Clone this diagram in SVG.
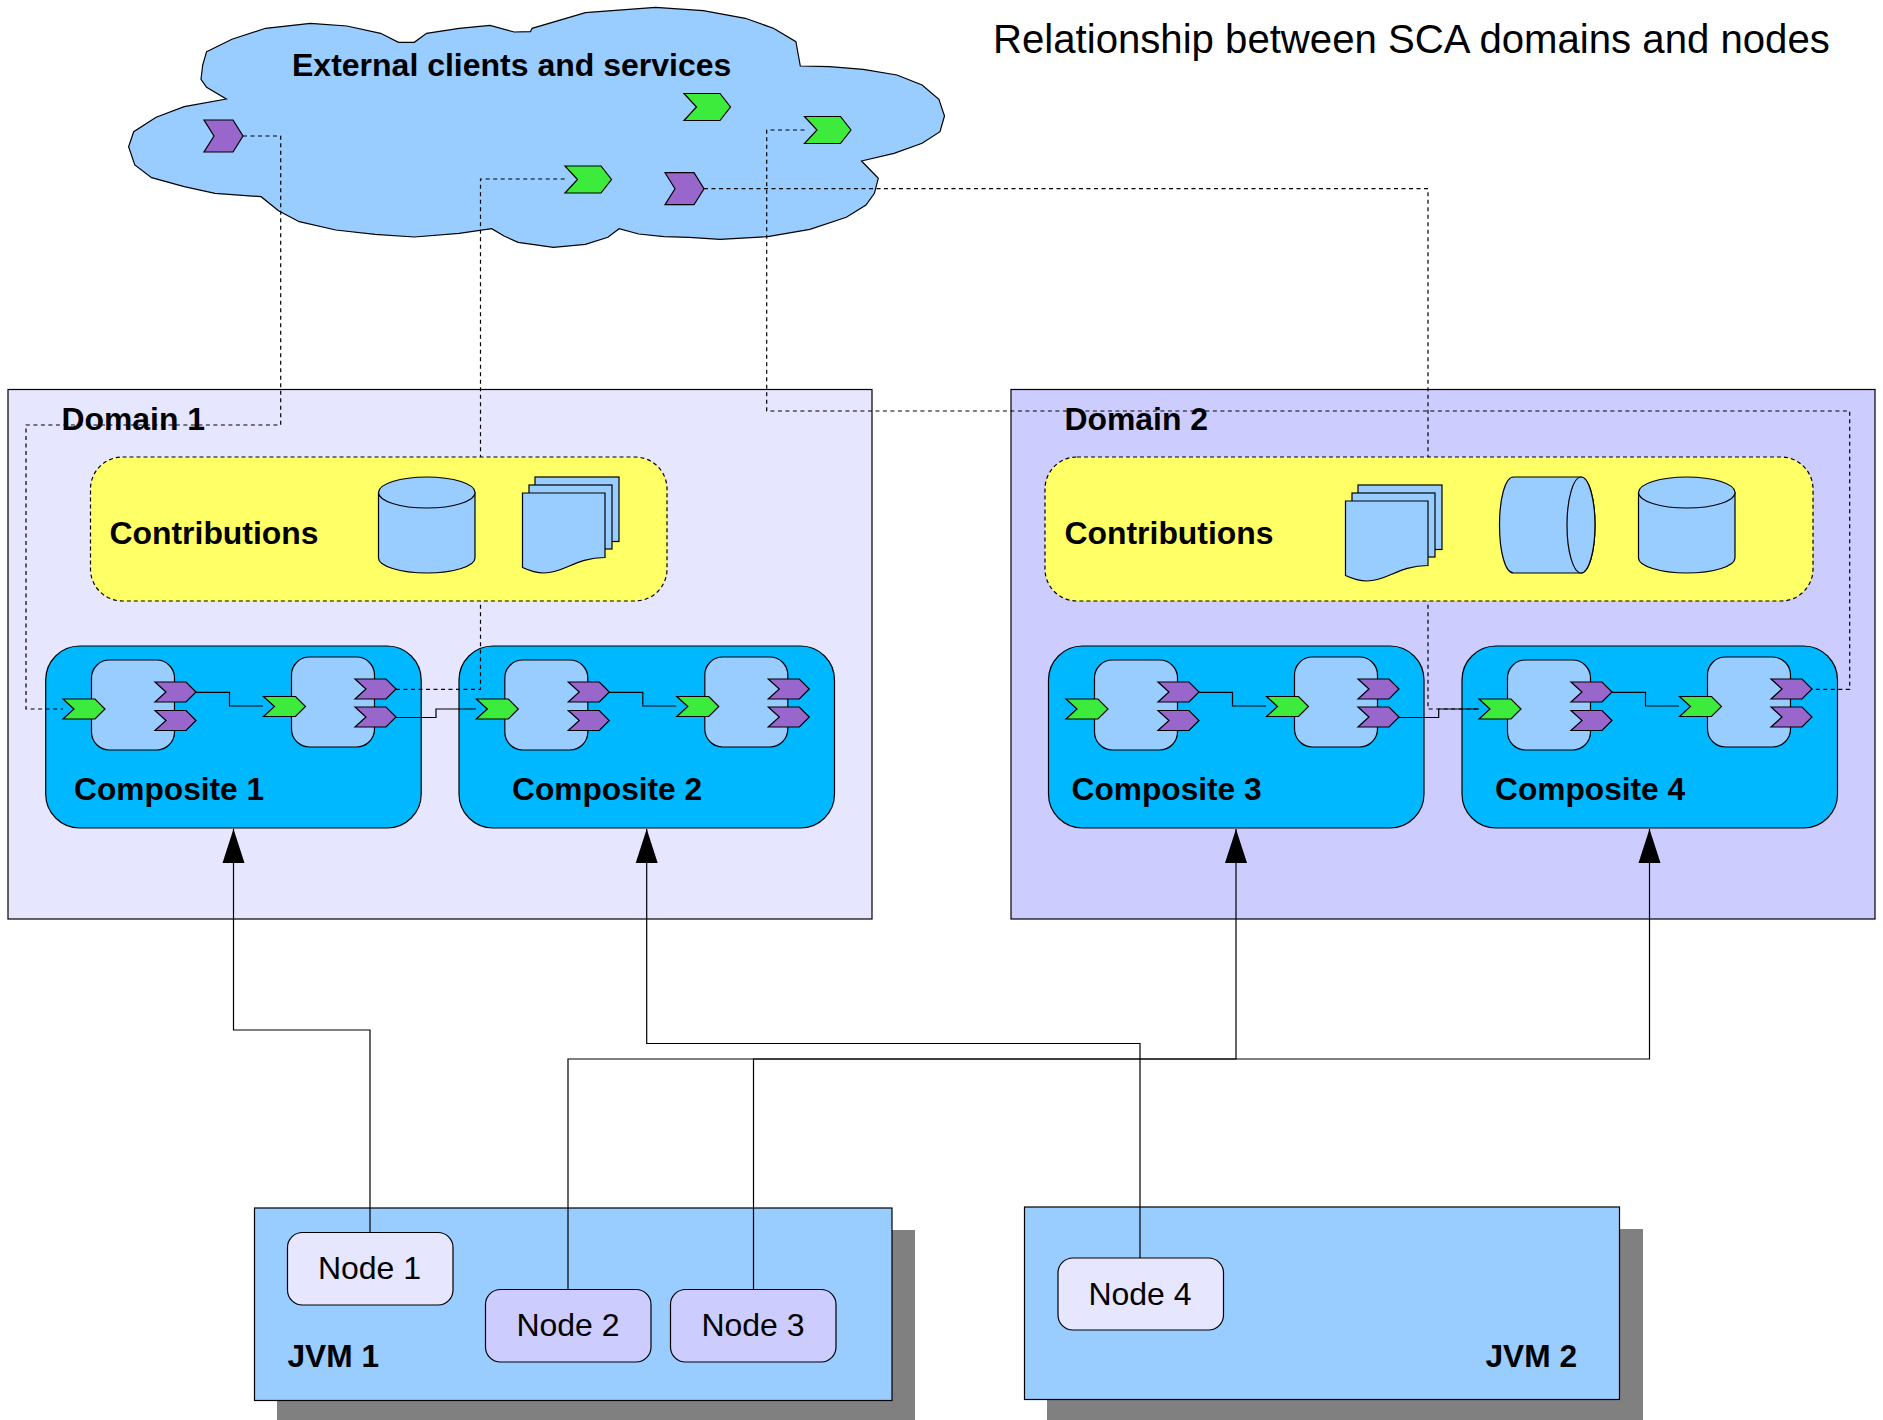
<svg xmlns="http://www.w3.org/2000/svg" width="1883" height="1420" viewBox="0 0 1883 1420">
<style>
text{font-family:"Liberation Sans",Arial,sans-serif;fill:#000}
.b{font-weight:bold;font-size:31.700px}
.bl{font-weight:bold;font-size:31.900px}
.n{font-size:32px;text-anchor:middle}
.body{fill:#99ccff;stroke:#000;stroke-width:1.2}
.g{fill:#3deb3d;stroke:#000;stroke-width:1.2}
.p{fill:#9966cc;stroke:#000;stroke-width:1.2}
.comp{fill:#00b8ff;stroke:#000;stroke-width:1.2}
.cont{fill:#ffff66;stroke:#000;stroke-width:1.2;stroke-dasharray:4 3}
.wire{fill:none;stroke:#000;stroke-width:1.2}
.dash{fill:none;stroke:#000;stroke-width:1.2;stroke-dasharray:4 3.5}
.shadow{fill:#808080}
.n1{fill:#e6e6ff;stroke:#000;stroke-width:1.2}
.n2{fill:#ccccff;stroke:#000;stroke-width:1.2}
</style>
<defs>
<marker id="arrow" markerUnits="userSpaceOnUse" markerWidth="35" markerHeight="24" refX="34" refY="12" orient="auto" viewBox="0 0 35 24"><path d="M0 1V23L34 12Z" fill="#000"/></marker>
<polygon id="green" class="g" points="0,0 32,0 42,10 32,20 0,20 11,10"/>
<polygon id="purple" class="p" points="0,0 31,0 41,10 31,20 0,20 11,10"/>
<polygon id="green-cloud" class="g" points="0,0 36,0 46.500,13.500 36,27 0,27 12.500,13.500"/>
<polygon id="purple-cloud" class="p" points="0,0 29,0 39,16 29,32 0,32 10,16"/>
<g id="inner">
<rect class="body" x="91.500" y="660" width="83" height="90" rx="18" ry="18"/>
<rect class="body" x="291.500" y="657" width="83" height="90" rx="18" ry="18"/>
<use href="#green" x="63" y="699"/>
<use href="#purple" x="155" y="682"/>
<use href="#purple" x="155" y="710.500"/>
<use href="#green" x="263.500" y="696.500"/>
<use href="#purple" x="355" y="679"/>
<use href="#purple" x="355" y="707"/>
<path class="wire" d="M196 692.300H229.500V706H263"/>
</g>
<g id="doc">
<rect class="body" x="535" y="477" width="84" height="64.500"/>
<rect class="body" x="529" y="485" width="83" height="64"/>
<path class="body" d="M522.500 493H605V557.500C575 557.500 565 573 544 573C536 573 530 571 522.500 567.500Z"/>
</g>
<g id="cyl">
<path class="body" d="M378.500 492.500V558C378.500 566 400 573 427 573S475 566 475 558V492.500"/>
<ellipse class="body" cx="426.800" cy="492.500" rx="48.300" ry="15.500"/>
</g>
</defs>
<rect width="1883" height="1420" fill="#fff"/>

<g id="cloud">
<polygon class="body" points="206.600,51.700 231.900,39.300 265.500,28.300 310.400,23.300 346.900,26 380.600,33.300 398.500,42.300 414.300,42.300 426.600,33.300 459.100,28.300 490,25.300 514.100,32 530.400,31.700 532.100,28.300 585.400,12.700 655.600,7.300 703.300,10.700 745.300,18.300 773.400,28.300 795.900,41.700 800.300,66 829.500,66.700 863.200,69.300 896.900,75 922.100,85 938.900,99.300 944.500,116 940,131.700 922.100,143.300 894,153.300 861.500,161 878.300,178.300 874.400,193.300 866,205 846.300,217.300 809.900,229.300 767.800,236.700 720.100,239.300 689.200,237.300 664,236.700 638.700,234 619.100,228.700 607.900,237.300 585.400,244.300 553.400,247.300 518.100,242.300 504,236 491.700,228.700 459.100,233.300 414.300,237 375,234.300 335.700,230 299.200,221.700 278.500,210.700 261.100,196.700 215,193.300 184.200,186.700 151.600,177.700 134.800,165 128.600,146.700 133.700,131.700 156.100,117.300 184.200,106.700 226.300,99 206.600,87.300 201,79.300 202.700,65"/>
<use href="#purple-cloud" x="204" y="120"/>
<use href="#green-cloud" x="684" y="93.500"/>
<use href="#green-cloud" x="804.500" y="116.500"/>
<use href="#green-cloud" x="565" y="166"/>
<use href="#purple-cloud" x="665" y="172.700"/>
<text class="b" style="font-size:32px" x="292" y="76">External clients and services</text>
</g>

<g id="domain-1"><rect x="8" y="389.500" width="864" height="529.500" fill="#e6e6ff" stroke="#000" stroke-width="1.200"/></g>
<g id="domain-2"><rect x="1011" y="389.500" width="864" height="529.500" fill="#ccccff" stroke="#000" stroke-width="1.200"/></g>

<g id="composite-1"><rect class="comp" x="45.700" y="646" width="375.500" height="182" rx="34" ry="34"/><use href="#inner"/><text class="b" x="74" y="800">Composite 1</text></g>
<g id="composite-2"><rect class="comp" x="459" y="646" width="375.500" height="182" rx="34" ry="34"/><use href="#inner" x="413.300"/><text class="b" x="512" y="800">Composite 2</text></g>
<g id="composite-3"><rect class="comp" x="1048.500" y="646" width="375.500" height="182" rx="34" ry="34"/><use href="#inner" x="1003"/><text class="b" x="1071.500" y="800">Composite 3</text></g>
<g id="composite-4"><rect class="comp" x="1462" y="646" width="375.500" height="182" rx="34" ry="34"/><use href="#inner" x="1416"/><text class="b" x="1495" y="800">Composite 4</text></g>

<g id="jvm-1">
<rect class="shadow" x="277" y="1230" width="638" height="190"/>
<rect class="body" x="254.500" y="1208" width="637.500" height="192.500"/>
<text class="b" x="287.500" y="1367">JVM 1</text>
</g>
<g id="jvm-2">
<rect class="shadow" x="1047" y="1229" width="596" height="191"/>
<rect class="body" x="1024.500" y="1207" width="595" height="192.500"/>
<text class="b" x="1485.500" y="1367">JVM 2</text>
</g>

<g id="connectors">
<path class="dash" d="M243 136H280.700V425H26V709H63"/>
<path class="dash" d="M396 689.300H480.500V179H565"/>
<path class="dash" d="M804.500 130H766.700V411H1849.700V689.300H1812"/>
<path class="dash" d="M704 188.700H1428V709H1479"/>
<path class="wire" d="M396 717.500H436V709H476"/>
<path class="wire" d="M1399 717.500H1438.700V709H1479"/>
<path class="wire" marker-end="url(#arrow)" d="M370 1233V1030H233.500V829"/>
<path class="wire" marker-end="url(#arrow)" d="M1140 1258V1043.500H646.700V829"/>
<path class="wire" marker-end="url(#arrow)" d="M568 1289V1059H1236V829"/>
<path class="wire" marker-end="url(#arrow)" d="M753.500 1289V1059H1649.500V829"/>
</g>

<g id="contributions-1">
<rect class="cont" x="90.500" y="457" width="576.500" height="144" rx="32" ry="32"/>
<use href="#cyl"/><use href="#doc"/>
<text class="bl" x="109.500" y="543.500">Contributions</text>
</g>
<g id="contributions-2">
<rect class="cont" x="1045" y="457" width="768" height="144" rx="32" ry="32"/>
<use href="#doc" x="823" y="8"/>
<path class="body" d="M1513.500 477H1581C1589 477 1595 499 1595 525S1589 573 1581 573H1513.500C1505 573 1499.500 551 1499.500 525S1505 477 1513.500 477Z"/>
<ellipse class="body" cx="1581" cy="525" rx="14" ry="48"/>
<use href="#cyl" x="1260"/>
<text class="bl" x="1064.500" y="543.500">Contributions</text>
</g>

<text id="domain-1-label" class="bl" x="61.500" y="430">Domain 1</text>
<text id="domain-2-label" class="bl" x="1064.500" y="430">Domain 2</text>

<g id="node-1"><rect class="n1" x="287.500" y="1232.500" width="165.500" height="72.500" rx="15" ry="15"/><text class="n" x="369.500" y="1279">Node 1</text></g>
<g id="node-2"><rect class="n2" x="485.500" y="1289.500" width="165.500" height="72.500" rx="15" ry="15"/><text class="n" x="568" y="1336">Node 2</text></g>
<g id="node-3"><rect class="n2" x="670.500" y="1289.500" width="165.500" height="72.500" rx="15" ry="15"/><text class="n" x="753" y="1336">Node 3</text></g>
<g id="node-4"><rect class="n1" x="1058" y="1258" width="165.500" height="72" rx="15" ry="15"/><text class="n" x="1140" y="1305">Node 4</text></g>
<text id="title" x="993" y="53" font-size="40.150">Relationship between SCA domains and nodes</text>
</svg>
